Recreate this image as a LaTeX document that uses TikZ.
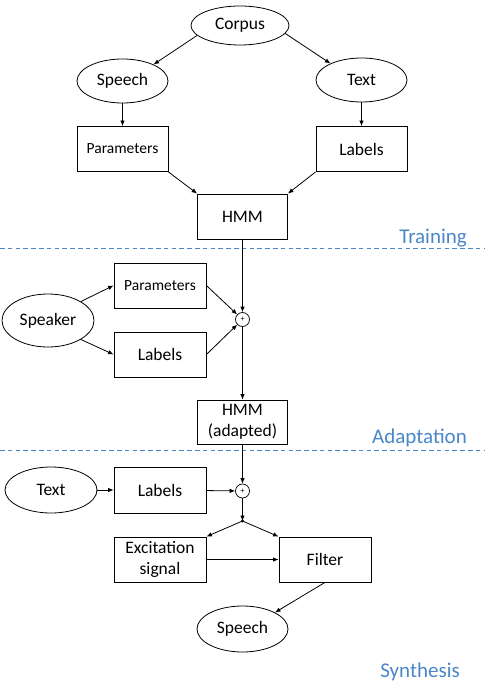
\documentclass[tikz,border=0pt]{standalone}
\usepackage{fontspec}
\setmainfont{Carlito}
\usetikzlibrary{shapes.geometric,arrows.meta}
\definecolor{secblue}{HTML}{4A86C8}
\tikzset{
  base/.style={draw=black,line width=0.8pt,inner sep=0pt,font=\fontsize{17.5}{21}\selectfont},
  oval/.style={base,ellipse,minimum width=91pt,minimum height=44pt},
  box/.style={base,rectangle,minimum width=91pt,minimum height=45pt,align=center},
  smallbox/.style={box,font=\fontsize{15.5}{19}\selectfont},
  plusnode/.style={draw=black,line width=0.7pt,circle,minimum size=14pt,inner sep=0pt,font=\fontsize{8}{8}\selectfont},
  conn/.style={line width=0.8pt,-{Latex[length=5.5pt,width=4.5pt]}},
  sep/.style={secblue,line width=1pt,dash pattern=on 4.5pt off 3.3pt},
  sec/.style={text=secblue,font=\fontsize{21}{24}\selectfont,inner sep=0pt,anchor=east}
}
\begin{document}
\begin{tikzpicture}[x=1pt,y=-1pt]
\useasboundingbox (0,0) rectangle (485,700);
% Training
\node[oval,minimum width=98pt,minimum height=39pt] (corpus) at (240,25.5) {Corpus};
\node[oval] (speech1) at (122.5,81) {Speech};
\node[oval] (text1) at (361.5,80) {Text};
\node[smallbox] (par1) at (122.5,149) {Parameters};
\node[box] (lab1) at (361.5,149) {Labels};
\node[box,minimum width=90pt] (hmm) at (242.5,216.5) {HMM};
\node[sec] (training) at (467,238) {Training};
\coordinate (s1a) at (0,249);
\coordinate (s1b) at (485,249);
\draw[sep] (s1a) -- (s1b);
\draw[conn] (corpus.193) -- (speech1.28);
\draw[conn] (corpus.350) -- (text1.152);
\draw[conn] (speech1) -- (par1);
\draw[conn] (text1) -- (lab1);
\draw[conn] (par1.south east) -- (hmm.north west);
\draw[conn] (lab1.south west) -- (hmm.north east);
% Adaptation
\node[oval,minimum width=92pt,minimum height=53pt] (speaker) at (48,320.5) {Speaker};
\node[smallbox,minimum width=92pt] (par2) at (160,285.5) {Parameters};
\node[box,minimum width=92pt] (lab2) at (160,354.5) {Labels};
\node[plusnode] (plus1) at (242.5,319.5) {+};
\node[box,minimum width=90pt,minimum height=44pt] (hmma) at (242.5,422) {HMM\\(adapted)};
\node[sec] (adaptation) at (467,438) {Adaptation};
\coordinate (s2a) at (0,450.5);
\coordinate (s2b) at (485,450.5);
\draw[sep] (s2a) -- (s2b);
\draw[conn] (speaker.30) -- (par2.west);
\draw[conn] (speaker.-30) -- (lab2.west);
\draw[conn] (par2.east) -- (plus1);
\draw[conn] (lab2.east) -- (plus1);
\draw[conn] (hmm) -- (plus1);
\draw[conn] (plus1) -- (hmma);
% Synthesis
\node[oval,minimum width=92pt,minimum height=46pt] (text3) at (51,490) {Text};
\node[box,minimum width=92pt,minimum height=46pt] (lab3) at (160,490) {Labels};
\node[plusnode] (plus2) at (242.5,491) {+};
\coordinate (branch) at (242.5,521);
\node[box,minimum width=92pt] (exc) at (160,559.5) {Excitation\\signal};
\node[box,minimum width=92pt] (filter) at (325,559.5) {Filter};
\node[oval,minimum width=91pt,minimum height=46pt] (speech3) at (242.5,629) {Speech};
\node[sec] (synthesis) at (460,672) {Synthesis};
\fill (branch) circle (1.6pt);
\draw[conn] (hmma) -- (plus2);
\draw[conn] (text3) -- (lab3);
\draw[conn] (lab3) -- (plus2);
\draw[conn] (plus2) -- (branch);
\draw[conn] (branch) -- (exc.north east);
\draw[conn] (branch) -- (filter.north west);
\draw[conn] (exc) -- (filter);
\draw[conn] (filter.south) -- (speech3.27);
\end{tikzpicture}
\end{document}
